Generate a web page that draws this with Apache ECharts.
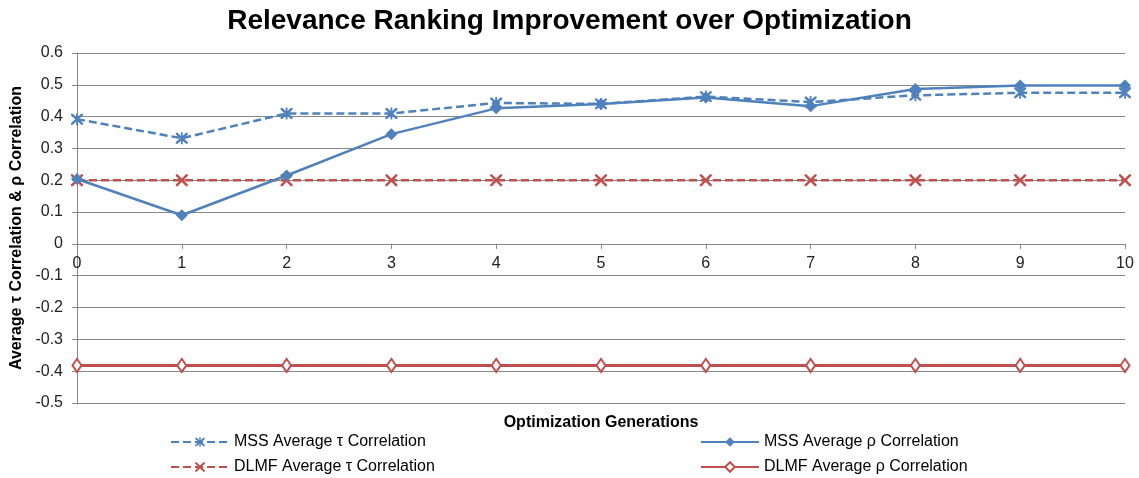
<!DOCTYPE html>
<html>
<head>
<meta charset="utf-8">
<script src="https://cdn.jsdelivr.net/npm/echarts@6/dist/echarts.min.js"></script>
<style>
  html, body { margin: 0; padding: 0; background: #fff; }
  #chart { width: 1139px; height: 478px; }
</style>
</head>
<body>
<div id="chart"></div>
<script>
const generations = ['0', '1', '2', '3', '4', '5', '6', '7', '8', '9', '10'];
const mssTau = [0.392, 0.332, 0.41, 0.41, 0.443, 0.44, 0.463, 0.446, 0.467, 0.475, 0.475];
const mssRho = [0.204, 0.09, 0.215, 0.345, 0.426, 0.44, 0.46, 0.433, 0.487, 0.498, 0.498];
const dlmfTau = [0.2, 0.2, 0.2, 0.2, 0.2, 0.2, 0.2, 0.2, 0.2, 0.2, 0.2];
const dlmfRho = [-0.382, -0.382, -0.382, -0.382, -0.382, -0.382, -0.382, -0.382, -0.382, -0.382, -0.382];
const yMin = -0.5;
const yMax = 0.6;

const BLUE = '#4F81BD';
const RED = '#C0504D';
const FONT = '"Liberation Sans", Arial, sans-serif';

// grid box, used to put the category axis on the zero line
const gridTop = 53;
const gridBottom = 75;
const plotHeight = 478 - gridTop - gridBottom;
const zeroOffset = -plotHeight * (0 - yMin) / (yMax - yMin);

// marker shapes (filled paths)
const crossPath = 'path://M0,0 L3,0 L10,7 L17,0 L20,0 L20,3 L13,10 L20,17 L20,20 L17,20 L10,13 L3,20 L0,20 L0,17 L7,10 L0,3 Z';
const starPath = 'path://M0,0 L3,0 L10,7 L17,0 L20,0 L20,3 L13,10 L20,17 L20,20 L17,20 L10,13 L3,20 L0,20 L0,17 L7,10 L0,3 Z M8.5,-1 L11.5,-1 L11.5,21 L8.5,21 Z';

const chart = echarts.init(document.getElementById('chart'));

const legendBase = {
  orient: 'vertical',
  top: 434,
  height: 60,
  padding: 0,
  itemGap: 9,
  itemWidth: 58,
  itemHeight: 12,
  textStyle: { fontSize: 16, color: '#000' }
};

const option = {
  animation: false,
  textStyle: { fontFamily: FONT },
  title: {
    text: 'Relevance Ranking Improvement over Optimization',
    left: 'center',
    top: 2,
    textStyle: { fontSize: 28, fontWeight: 'bold', color: '#000', fontFamily: FONT }
  },
  legend: [
    Object.assign({}, legendBase, {
      left: 170,
      data: ['MSS Average τ Correlation', 'DLMF Average τ Correlation']
    }),
    Object.assign({}, legendBase, {
      left: 700,
      data: ['MSS Average ρ Correlation', 'DLMF Average ρ Correlation']
    })
  ],
  grid: { left: 77, right: 14, top: gridTop, bottom: gridBottom, outerBoundsMode: 'none', containLabel: false },
  xAxis: {
    type: 'category',
    data: generations,
    boundaryGap: false,
    offset: zeroOffset,
    name: 'Optimization Generations',
    nameLocation: 'middle',
    nameGap: 171,
    nameTextStyle: { fontSize: 16, fontWeight: 'bold', color: '#000' },
    axisLine: { onZero: false, lineStyle: { color: '#888', width: 1 } },
    axisTick: { show: true, alignWithLabel: true, length: 5, lineStyle: { color: '#888' } },
    axisLabel: { fontSize: 16, color: '#222', margin: 12 }
  },
  yAxis: {
    type: 'value',
    min: yMin,
    max: yMax,
    interval: 0.1,
    name: 'Average τ Correlation & ρ Correlation',
    nameLocation: 'middle',
    nameGap: 50,
    nameTextStyle: { fontSize: 16, fontWeight: 'bold', color: '#000' },
    axisLine: { show: true, lineStyle: { color: '#888', width: 1 } },
    axisTick: { show: true, length: 5, lineStyle: { color: '#888' } },
    axisLabel: {
      fontSize: 16,
      color: '#222',
      margin: 14,
      formatter: v => String(Math.round(v * 10) / 10)
    },
    splitLine: { lineStyle: { color: '#888', width: 1 } }
  },
  series: [
    {
      name: 'MSS Average τ Correlation',
      type: 'line',
      data: mssTau,
      color: BLUE,
      symbol: starPath,
      symbolSize: 12,
      lineStyle: { color: BLUE, width: 2.5, type: [8, 4] },
      itemStyle: { color: BLUE },
      z: 4
    },
    {
      name: 'DLMF Average τ Correlation',
      type: 'line',
      data: dlmfTau,
      color: RED,
      symbol: crossPath,
      symbolSize: 12,
      lineStyle: { color: RED, width: 2.5, type: [8, 4] },
      itemStyle: { color: RED },
      z: 3
    },
    {
      name: 'MSS Average ρ Correlation',
      type: 'line',
      data: mssRho,
      color: BLUE,
      symbol: 'diamond',
      symbolSize: 12,
      lineStyle: { color: BLUE, width: 2.5 },
      itemStyle: { color: BLUE },
      z: 5
    },
    {
      name: 'DLMF Average ρ Correlation',
      type: 'line',
      data: dlmfRho,
      color: RED,
      symbol: 'emptyDiamond',
      symbolSize: [9, 13],
      lineStyle: { color: RED, width: 3 },
      itemStyle: { color: RED, borderColor: RED, borderWidth: 1.5 },
      z: 3
    }
  ]
};

chart.setOption(option);
</script>
</body>
</html>
